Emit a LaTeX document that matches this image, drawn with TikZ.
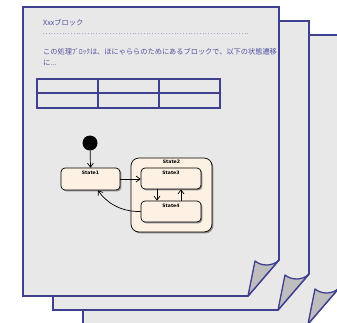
\documentclass[tikz,border=0pt]{standalone}
\usepackage{fontspec}
\newfontfamily\jp{Noto Sans CJK JP}
\newfontfamily\stfont{DejaVu Sans}
\usetikzlibrary{arrows.meta,shadows}
\definecolor{pgline}{HTML}{404090}
\definecolor{pgfill}{HTML}{E8E8E8}
\definecolor{curlfill}{HTML}{BEBEBE}
\definecolor{jptext}{HTML}{5050A0}
\definecolor{stfill}{HTML}{FCF1E3}
\tikzset{
  pagebox/.style={draw=pgline, fill=pgfill, line width=1.6pt, line join=miter},
  curlbox/.style={draw=pgline, fill=curlfill, line width=1.3pt, line join=round},
  jptxt/.style={anchor=west, inner sep=0pt, text=jptext, font=\jp\fontsize{7.2}{8}\selectfont},
  tbl/.style={draw=pgline, line width=1.4pt},
  stbox/.style={draw=black, fill=stfill, line width=0.7pt, rounded corners=4pt, inner sep=0pt,
    drop shadow={shadow xshift=1.4pt, shadow yshift=-1.4pt, fill=black!45, opacity=1}},
  stlbl/.style={anchor=north, inner sep=0pt, font=\stfont\bfseries\fontsize{4.6}{5}\selectfont},
  arr/.style={draw=black, line width=0.7pt, -{Straight Barb[length=4pt,width=6pt]}},
}
\begin{document}
\begin{tikzpicture}[x=1pt,y=-1pt]
\useasboundingbox (0,0) rectangle (337,322);
\clip (0,0) rectangle (337,322);
\fill[white] (0,0) rectangle (337,322);
\foreach \dx/\dy in {60/28,30/14,0/0}{
  \begin{scope}[shift={(\dx,\dy)}]
    \filldraw[pagebox] (23,7) -- (279,7) -- (279,260) -- (248,296) -- (23,296) -- cycle;
    \filldraw[curlbox] (248,296) -- (255,261) .. controls (261,266) and (272,267) .. (279,260) -- cycle;
  \end{scope}
}
% texts
\node[jptxt] (title) at (43,23) {Xxxブロック};
\draw[jptext!50, line width=0.8pt, dotted] (43,33) -- (250,33);
\begin{scope}
  \clip (23,40) rectangle (278,70);
  \node[jptxt] (desc1) at (43,52) {この処理ﾌﾞﾛｯｸは、ほにゃららのためにあるブロックで、以下の状態遷移};
\end{scope}
\node[jptxt] (desc2) at (43,63) {に...};
% table
\draw[tbl] (37,79) rectangle (220,108);
\draw[tbl] (37,93) -- (220,93);
\draw[tbl] (98,79) -- (98,108);
\draw[tbl] (159,79) -- (159,108);
% state diagram
\node[circle, fill=black, minimum size=15pt, inner sep=0pt] (init) at (90,143) {};
\node[stbox, minimum width=59pt, minimum height=22pt] (s1) at (90.5,179) {};
\node[stlbl] (s1l) at ([yshift=-3pt]s1.north) {State1};
\node[stbox, rounded corners=8pt, minimum width=81pt, minimum height=74pt] (s2) at (171.5,195) {};
\node[stlbl] (s2l) at ([yshift=-2pt]s2.north) {State2};
\node[stbox, minimum width=60pt, minimum height=21pt] (s3) at (171,178.5) {};
\node[stlbl] (s3l) at ([yshift=-3pt]s3.north) {State3};
\node[stbox, minimum width=60pt, minimum height=21pt] (s4) at (171,211.5) {};
\node[stlbl] (s4l) at ([yshift=-3pt]s4.north) {State4};
\draw[arr] (init) -- (s1.north);
\draw[arr] (s1.east) -- (s1.east -| s3.west);
\draw[arr] ([xshift=-14pt]s3.south) -- ([xshift=-14pt]s4.north);
\draw[arr] ([xshift=10pt]s4.north) -- ([xshift=10pt]s3.south);
\draw[arr] (s4.west) .. controls (120,212) and (106,202) .. ([xshift=7.5pt]s1.south);
\end{tikzpicture}
\end{document}
